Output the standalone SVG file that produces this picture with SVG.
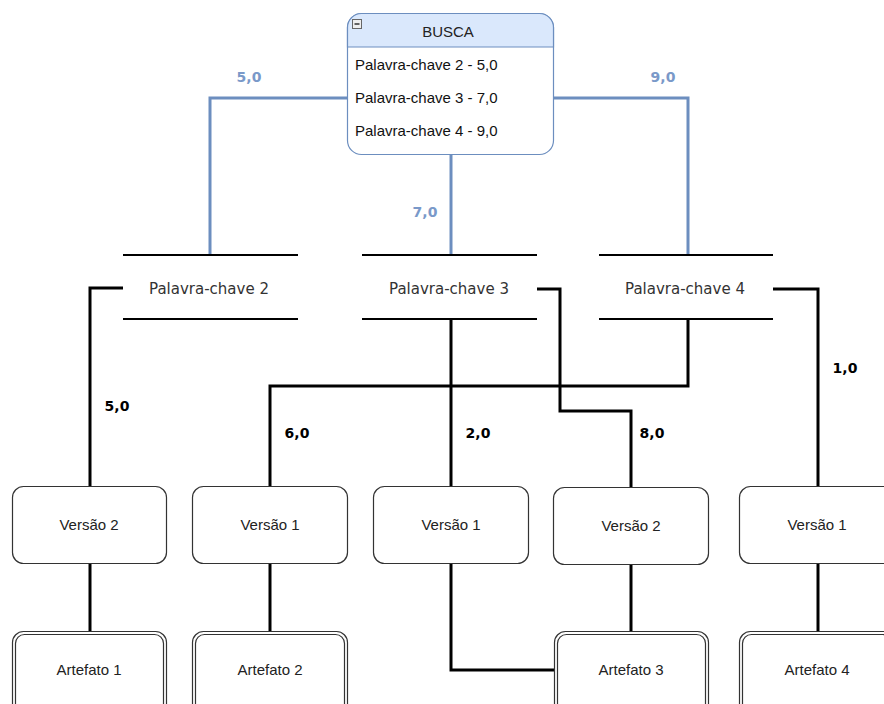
<svg xmlns="http://www.w3.org/2000/svg" width="884" height="704" viewBox="0 0 884 704">
<defs>
<style>
.box{fill:#fff;stroke:#333;stroke-width:1.2}
.t{font-family:"Liberation Sans",Arial,sans-serif;font-size:15px;fill:#222;text-anchor:middle}
.pk{font-family:"DejaVu Sans",Verdana,sans-serif;font-size:15px;fill:#333;text-anchor:middle}
.item{font-family:"Liberation Sans",Arial,sans-serif;font-size:15px;fill:#111}
.lb{font-family:"DejaVu Sans",Verdana,sans-serif;font-size:14px;font-weight:bold;fill:#000;text-anchor:middle}
.lbb{font-family:"DejaVu Sans",Verdana,sans-serif;font-size:14px;font-weight:bold;fill:#7a99c9;text-anchor:middle}
.c{fill:none;stroke:#000;stroke-width:3}
.cb{fill:none;stroke:#6c8ebf;stroke-width:3}
.pl{stroke:#000;stroke-width:2}
</style>
</defs>
<rect width="884" height="704" fill="#fff"/>

<g id="connectors">
<path class="cb" d="M347 98 H210 V255"/>
<path class="cb" d="M553 98 H688 V255"/>
<path class="cb" d="M451 155 V255"/>
<path class="c" d="M123 288 H90 V487"/>
<path class="c" d="M451 320 V487"/>
<path class="c" d="M537 289 H560 V411 H631 V487"/>
<path class="c" d="M688 320 V386 H270 V487"/>
<path class="c" d="M773 289 H818 V487"/>
<path class="c" d="M90 563 V631"/>
<path class="c" d="M270 563 V631"/>
<path class="c" d="M451 563 V670 H554"/>
<path class="c" d="M631 565 V631"/>
<path class="c" d="M818 563 V631"/>
<text class="lbb" x="249" y="82">5,0</text>
<text class="lbb" x="663" y="82">9,0</text>
<text class="lbb" x="425" y="217">7,0</text>
<text class="lb" x="117" y="411">5,0</text>
<text class="lb" x="297" y="438">6,0</text>
<text class="lb" x="478" y="438">2,0</text>
<text class="lb" x="652" y="438">8,0</text>
<text class="lb" x="845" y="373">1,0</text>
</g>

<g id="busca">
<rect x="347.5" y="13.5" width="206" height="141" rx="14" fill="#fff" stroke="#6c8ebf" stroke-width="1.2"/>
<path d="M347.5 47 V27.5 A14 14 0 0 1 361.5 13.5 H539.5 A14 14 0 0 1 553.5 27.5 V47 Z" fill="#dae8fc" stroke="#6c8ebf" stroke-width="1.2"/>
<rect x="352.5" y="19.5" width="9" height="9" fill="#eee" stroke="#666" stroke-width="1"/>
<line x1="354.5" y1="24" x2="359.5" y2="24" stroke="#333" stroke-width="1.5"/>
<text class="t" x="448" y="37">BUSCA</text>
<text class="item" x="355" y="70">Palavra-chave 2 - 5,0</text>
<text class="item" x="355" y="103">Palavra-chave 3 - 7,0</text>
<text class="item" x="355" y="136">Palavra-chave 4 - 9,0</text>
</g>

<g id="pk2">
<line class="pl" x1="123" y1="255" x2="298" y2="255"/>
<line class="pl" x1="123" y1="319" x2="298" y2="319"/>
<text class="pk" x="209" y="294">Palavra-chave 2</text>
</g>
<g id="pk3">
<line class="pl" x1="362" y1="255" x2="537" y2="255"/>
<line class="pl" x1="362" y1="319" x2="537" y2="319"/>
<text class="pk" x="449" y="294">Palavra-chave 3</text>
</g>
<g id="pk4">
<line class="pl" x1="599" y1="255" x2="773" y2="255"/>
<line class="pl" x1="599" y1="319" x2="773" y2="319"/>
<text class="pk" x="685" y="294">Palavra-chave 4</text>
</g>

<g id="v2a"><rect class="box" x="12.5" y="486.5" width="154" height="77" rx="11"/><text class="t" x="89" y="530">Versão 2</text></g>
<g id="v1a"><rect class="box" x="192.5" y="486.5" width="155" height="77" rx="11"/><text class="t" x="270" y="530">Versão 1</text></g>
<g id="v1b"><rect class="box" x="373.5" y="486.5" width="155" height="77" rx="11"/><text class="t" x="451" y="530">Versão 1</text></g>
<g id="v2b"><rect class="box" x="553.5" y="487.5" width="155" height="77" rx="11"/><text class="t" x="631" y="531">Versão 2</text></g>
<g id="v1c"><rect class="box" x="739.5" y="486.5" width="155" height="77" rx="11"/><text class="t" x="817" y="530">Versão 1</text></g>

<g id="a1"><rect class="box" x="12.5" y="631.5" width="154" height="90" rx="11"/><rect class="box" x="15.5" y="634.5" width="148" height="84" rx="9"/><text class="t" x="89" y="675">Artefato 1</text></g>
<g id="a2"><rect class="box" x="192.5" y="631.5" width="155" height="90" rx="11"/><rect class="box" x="195.5" y="634.5" width="149" height="84" rx="9"/><text class="t" x="270" y="675">Artefato 2</text></g>
<g id="a3"><rect class="box" x="554.5" y="631.5" width="154" height="90" rx="11"/><rect class="box" x="557.5" y="634.5" width="148" height="84" rx="9"/><text class="t" x="631" y="675">Artefato 3</text></g>
<g id="a4"><rect class="box" x="739.5" y="631.5" width="155" height="90" rx="11"/><rect class="box" x="742.5" y="634.5" width="149" height="84" rx="9"/><text class="t" x="817" y="675">Artefato 4</text></g>
</svg>
